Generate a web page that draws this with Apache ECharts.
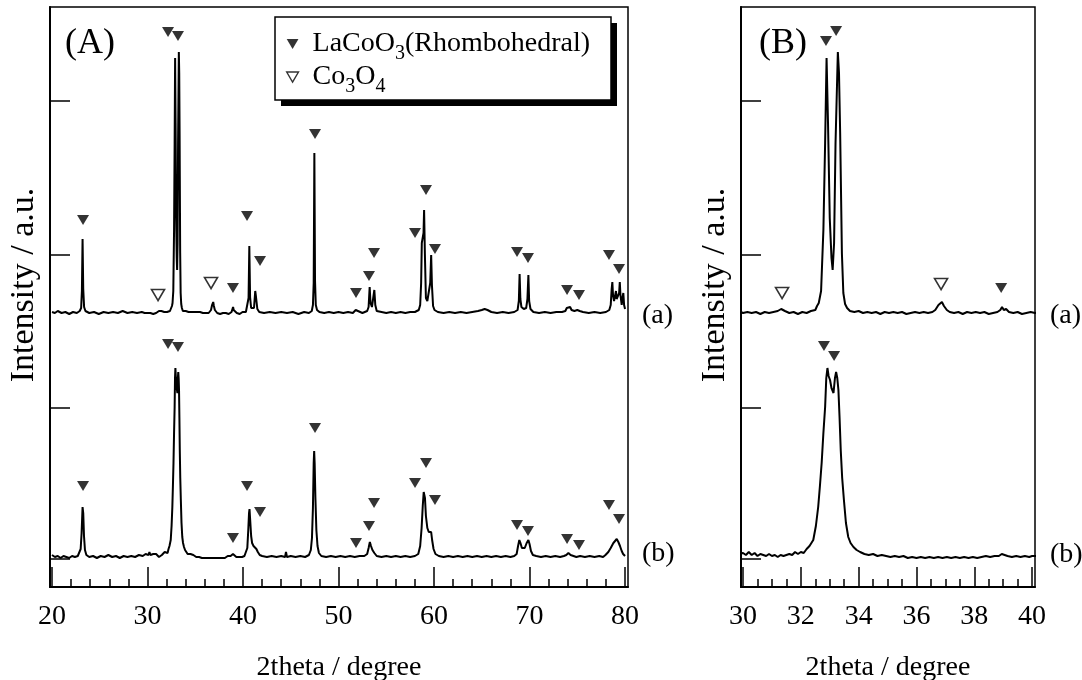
<!DOCTYPE html>
<html>
<head>
<meta charset="utf-8">
<script src="https://cdn.jsdelivr.net/npm/echarts@6/dist/echarts.min.js"></script>
<style>html,body{margin:0;padding:0;background:#fff}#chart{width:1082px;height:680px}</style>
</head>
<body>
<div id="chart"></div>
<script>
// ---------------- DATA ----------------
// XRD pattern of sample (a): [2theta (deg), intensity (a.u., baseline ~0)]
const patternA = [
[20.0,1],[20.3,0],[20.6,2],[21.0,0],[21.4,1],[21.8,-1],[22.2,1],[22.6,0],[22.9,2],[23.05,5],[23.13,22],[23.2,74],[23.27,24],[23.36,6],[23.5,2],
[23.9,0],[24.4,1],[24.9,-1],[25.4,1],[25.9,0],[26.4,1],[26.9,0],[27.4,2],[27.9,0],[28.4,1],[28.9,0],[29.4,1],[29.7,0],[29.85,2],
[30.0,0],[30.15,1],[30.3,0],[30.45,1],[30.6,-1],[30.75,1],[30.9,0],[31.05,1],[31.2,2],[31.32,4],[31.45,2],[31.6,0],[31.75,1],[31.9,-1],
[32.05,1],[32.2,0],[32.35,2],[32.5,3],[32.56,7],[32.62,10],[32.7,22],[32.78,83],[32.84,170],[32.89,255],[32.94,190],[33.0,95],[33.06,55],
[33.1,43],[33.15,70],[33.2,170],[33.28,261],[33.32,240],[33.36,180],[33.42,60],[33.47,20],[33.53,9],[33.6,5],[33.7,2],[33.85,1],
[34.0,2],[34.15,0],[34.3,1],[34.45,0],[34.6,1],[34.75,-1],[34.9,1],[35.05,0],[35.2,1],[35.35,0],[35.5,1],[35.65,-1],[35.8,0],[35.95,1],
[36.1,0],[36.25,1],[36.4,0],[36.55,1],[36.65,3],[36.76,8],[36.82,7],[36.88,11],[36.95,7],[37.05,3],[37.15,1],[37.3,0],[37.45,1],[37.6,-1],
[37.75,1],[37.9,0],[38.05,1],[38.2,0],[38.35,1],[38.5,-1],[38.65,0],[38.8,1],[38.9,3],[38.96,6],[39.02,3],[39.1,4],[39.2,1],[39.35,0],
[39.5,1],[39.65,-1],[39.8,0],[39.95,1],[40.1,0],[40.3,1],[40.45,2],[40.58,15],[40.66,67],[40.74,16],[40.85,5],[41.0,3],[41.15,5],[41.28,22],
[41.36,16],[41.5,4],[41.7,1],[42.2,0],[42.8,1],[43.4,0],[44.0,1],[44.6,0],[45.2,1],[45.8,-1],[46.4,1],[46.9,0],[47.2,2],[47.32,8],[47.4,30],
[47.47,160],[47.54,32],[47.62,8],[47.75,3],[48.0,1],[48.5,0],[49.0,1],[49.5,0],[50.0,1],[50.5,0],[51.0,1],[51.5,0],[51.8,3],[52.0,1],[52.5,0],
[53.0,2],[53.15,6],[53.26,26],[53.35,10],[53.5,6],[53.62,8],[53.75,23],[53.85,8],[54.0,2],[54.5,1],[55.0,0],[55.5,1],[56.0,0],[56.5,1],[57.0,0],
[57.5,1],[58.0,1],[58.4,3],[58.55,8],[58.65,30],[58.72,70],[58.82,72],[58.9,80],[58.96,103],[59.04,60],[59.15,15],[59.3,12],[59.48,14],[59.6,30],
[59.7,58],[59.78,28],[59.9,7],[60.05,3],[60.4,1],[61.0,0],[61.6,1],[62.2,0],[62.8,1],[63.4,0],[64.0,1],[64.6,2],[65.0,3],[65.3,4],[65.6,3],[66.0,1],
[66.6,0],[67.2,1],[67.8,0],[68.4,1],[68.75,3],[68.88,12],[68.96,39],[69.04,14],[69.15,6],[69.4,4],[69.65,5],[69.78,14],[69.88,38],[69.96,12],
[70.1,4],[70.4,1],[71.0,0],[71.6,1],[72.2,0],[72.8,1],[73.4,1],[73.75,2],[73.9,5],[74.05,3],[74.25,6],[74.4,3],[74.7,2],[75.0,3],[75.1,5],[75.25,2],
[75.6,1],[76.2,0],[76.8,1],[77.4,0],[78.0,1],[78.35,3],[78.5,8],[78.6,24],[78.67,31],[78.74,18],[78.85,12],[78.95,14],[79.05,22],[79.12,14],
[79.25,12],[79.38,20],[79.45,31],[79.52,18],[79.65,8],[79.75,16],[79.82,20],[79.9,8],[80.0,4]
];
// XRD pattern of sample (b)
const patternB = [
[20.0,3],[20.3,1],[20.6,2],[20.9,0],[21.2,2],[21.5,1],[21.8,0],[22.1,2],[22.4,1],[22.7,2],[22.9,4],[23.0,9],[23.1,25],[23.2,51],[23.27,45],
[23.35,22],[23.45,8],[23.6,3],[23.9,1],[24.3,2],[24.7,0],[25.1,2],[25.5,1],[25.9,3],[26.3,1],[26.7,2],[27.1,0],[27.5,2],[27.9,1],[28.3,2],
[28.7,1],[29.1,3],[29.5,2],[29.8,4],[30.0,5],[30.1,3],[30.2,6],[30.3,3],[30.4,5],[30.5,2],[30.6,4],[30.7,3],[30.8,2],[30.9,4],[31.0,2],
[31.1,3],[31.2,1],[31.3,3],[31.4,2],[31.5,3],[31.6,4],[31.7,3],[31.8,6],[31.9,4],[32.0,6],[32.1,5],[32.2,9],[32.3,12],[32.43,18],[32.52,32],
[32.6,51],[32.66,72],[32.72,95],[32.78,125],[32.84,151],[32.88,180],[32.92,190],[32.96,182],[33.01,178],[33.06,170],[33.13,165],[33.18,180],
[33.22,186],[33.26,180],[33.3,168],[33.34,140],[33.38,108],[33.43,80],[33.49,58],[33.56,35],[33.64,21],[33.72,15],[33.82,11],[33.93,8],
[34.05,6],[34.2,4],[34.35,3],[34.5,4],[34.65,2],[34.8,3],[34.95,2],[35.1,1],[35.25,2],[35.4,1],[35.55,2],[35.7,0],[35.85,1],[36.0,0],
[36.15,1],[36.3,0],[36.45,1],[36.6,0],[36.75,1],[36.9,0],[37.05,1],[37.2,0],[37.35,1],[37.5,0],[37.65,1],[37.8,0],[37.95,1],[38.1,0],
[38.25,1],[38.4,2],[38.55,1],[38.7,2],[38.85,2],[38.95,4],[39.05,3],[39.15,2],[39.3,1],[39.45,2],[39.6,1],[39.75,2],[39.9,1],[40.0,2],
[40.15,2],[40.3,3],[40.45,10],[40.55,28],[40.63,45],[40.68,49],[40.75,38],[40.85,22],[40.95,15],[41.1,12],[41.25,11],[41.4,9],[41.55,6],
[41.75,3],[42.0,2],[42.5,1],[43.0,2],[43.5,1],[44.0,2],[44.4,1],[44.5,6],[44.6,1],[45.0,2],[45.5,1],[46.0,2],[46.5,1],[46.9,3],[47.1,8],
[47.22,20],[47.32,50],[47.4,95],[47.45,107],[47.5,95],[47.58,60],[47.68,28],[47.8,12],[47.95,5],[48.2,2],[48.7,1],[49.2,2],[49.7,1],[50.2,2],
[50.7,1],[51.2,2],[51.7,1],[52.2,2],[52.7,2],[53.0,4],[53.15,10],[53.28,16],[53.4,12],[53.55,8],[53.75,5],[54.0,2],[54.5,1],[55.0,2],[55.5,1],
[56.0,2],[56.5,1],[57.0,2],[57.5,1],[58.0,2],[58.35,4],[58.55,12],[58.7,30],[58.82,52],[58.92,66],[58.98,68],[59.05,60],[59.15,42],[59.3,30],
[59.45,26],[59.6,27],[59.7,26],[59.8,18],[59.95,9],[60.15,4],[60.5,2],[61.0,1],[61.5,2],[62.0,1],[62.5,2],[63.0,1],[63.5,2],[64.0,1],[64.5,2],
[65.0,1],[65.5,2],[66.0,1],[66.5,2],[67.0,1],[67.5,2],[68.0,1],[68.4,2],[68.65,4],[68.8,12],[68.93,18],[69.05,15],[69.2,10],[69.35,8],[69.5,10],
[69.7,15],[69.88,18],[70.0,14],[70.15,7],[70.35,3],[70.7,2],[71.2,1],[71.7,2],[72.2,1],[72.7,2],[73.2,1],[73.6,2],[73.85,3],[74.07,5],[74.3,3],
[74.6,2],[74.9,1],[75.3,2],[75.8,1],[76.3,2],[76.8,1],[77.3,2],[77.7,1],[77.95,3],[78.25,6],[78.5,10],[78.78,15],[78.95,17],[79.13,19],[79.3,16],
[79.47,12],[79.65,7],[79.8,4],[80.0,2]
];
// vertical offsets used to stack the two patterns
const offsetPatternA = 246;
const offsetPatternB = 1;

// peak-marker positions [2theta, plotted intensity]
const lacoMarksPanelA_a = [[23.25,339],[32.15,527],[33.19,523],[38.95,271],[40.42,343],[41.78,298],[47.54,425],[51.83,266],[53.19,283],[53.72,306],[58.01,326],[59.16,369],[60.1,310],[68.69,307],[69.84,301],[73.93,269],[75.18,264],[78.32,304],[79.37,290]];
const co3o4MarksPanelA_a = [[31.1,264],[36.65,276]];
const lacoMarksPanelA_b = [[23.25,73],[32.15,215],[33.19,212],[38.95,21],[40.42,73],[41.78,47],[47.54,131],[51.83,16],[53.19,33],[53.72,56],[58.01,76],[59.16,96],[60.1,59],[68.69,34],[69.84,28],[73.93,20],[75.18,14],[78.32,54],[79.37,40]];
const lacoMarksPanelB_a = [[32.87,518],[33.22,528],[38.93,271]];
const co3o4MarksPanelB_a = [[31.35,266],[36.85,275]];
const lacoMarksPanelB_b = [[32.8,213],[33.15,203]];

// ticks
const xTicksA = [20,30,40,50,60,70,80];
const xMinorTicksA = [22,24,26,28,32,34,36,38,42,44,46,48,52,54,56,58,62,64,66,68,72,74,76,78];
const xTicksB = [30,32,34,36,38,40];
const xMinorTicksB = [30.5,31,31.5,32.5,33,33.5,34.5,35,35.5,36.5,37,37.5,38.5,39,39.5];
const yTicks = [0,151,304,458];

// ---------------- CHART ----------------
const FONT = '"Liberation Serif","Times New Roman",Times,serif';
const shift = (arr, off) => arr.map(p => [p[0], p[1] + off]);
const chart = echarts.init(document.getElementById('chart'), null, {renderer: 'canvas'});

function majorX(grid, min, max, ticks, name) {
  return {
    type: 'value', gridIndex: grid, min, max, position: 'bottom',
    name, nameLocation: 'middle', nameGap: 67,
    nameTextStyle: {fontFamily: FONT, fontSize: 28, color: '#000'},
    axisLine: {show: true, onZero: false, lineStyle: {color: '#000', width: 2}},
    axisTick: {show: true, inside: true, length: 20, customValues: ticks, lineStyle: {color: '#000', width: 1.5}},
    axisLabel: {show: true, customValues: ticks, margin: 16, fontFamily: FONT, fontSize: 28, color: '#000'},
    splitLine: {show: false}
  };
}
function minorX(grid, min, max, ticks) {
  return {
    type: 'value', gridIndex: grid, min, max, position: 'bottom', offset: 0,
    axisLine: {show: false, onZero: false},
    axisTick: {show: true, inside: true, length: 8, customValues: ticks, lineStyle: {color: '#000', width: 1.5}},
    axisLabel: {show: false},
    splitLine: {show: false}
  };
}
function yAx(grid) {
  return {
    type: 'value', gridIndex: grid, min: -28, max: 552,
    name: 'Intensity / a.u.', nameLocation: 'middle', nameGap: 9, nameRotate: 90,
    nameTextStyle: {fontFamily: FONT, fontSize: 34, color: '#000', padding: [0, 0, 0, 24]},
    axisLine: {show: true, onZero: false, lineStyle: {color: '#000', width: 2}},
    axisTick: {show: true, inside: true, length: 20, customValues: yTicks, lineStyle: {color: '#000', width: 1.5}},
    axisLabel: {show: false},
    splitLine: {show: false}
  };
}
const lineStyle = {color: '#000', width: 2};
function trace(xi, yi, data) {
  return {type: 'line', xAxisIndex: xi, yAxisIndex: yi, data, showSymbol: false, symbol: 'none',
          lineStyle, silent: true, animation: false, clip: true, z: 2};
}
const LACO = 'LaCoO3(Rhombohedral)', CO = 'Co3O4';
const DOWN_TRI = 'path://M0,0L10,0L5,8.5Z';
function filled(xi, yi, data) {
  return {type: 'scatter', name: LACO, xAxisIndex: xi, yAxisIndex: yi, data, symbol: 'triangle',
          symbolRotate: 180, symbolSize: [12, 10], itemStyle: {color: '#000'}, silent: true, z: 3, animation: false};
}
function open(xi, yi, data) {
  return {type: 'scatter', name: CO, xAxisIndex: xi, yAxisIndex: yi, data, symbol: 'triangle',
          symbolRotate: 180, symbolSize: [13, 11], itemStyle: {color: '#fff', borderColor: '#000', borderWidth: 1.6},
          silent: true, z: 3, animation: false};
}
const gridBase = {show: true, borderColor: '#000', borderWidth: 1.5, containLabel: false, outerBoundsMode: 'none'};

const option = {
  backgroundColor: '#fff',
  animation: false,
  textStyle: {fontFamily: FONT},
  grid: [
    Object.assign({left: 50, top: 7, width: 578, height: 580}, gridBase),
    Object.assign({left: 741, top: 7, width: 294, height: 580}, gridBase)
  ],
  xAxis: [
    majorX(0, 19.79, 80.31, xTicksA, '2theta / degree'),
    minorX(0, 19.79, 80.31, xMinorTicksA),
    majorX(1, 29.93, 40.1, xTicksB, '2theta / degree'),
    minorX(1, 29.93, 40.1, xMinorTicksB)
  ],
  yAxis: [yAx(0), yAx(1)],
  legend: {
    left: 275, top: 17, orient: 'vertical', z: 20,
    padding: [7, 19, 3, 11],
    itemWidth: 12, itemHeight: 10, itemGap: -7,
    backgroundColor: 'transparent', borderWidth: 0,
    selectedMode: false,
    symbolRotate: 0,
    data: [
      {name: LACO, icon: DOWN_TRI, itemStyle: {color: '#000', borderWidth: 0}},
      {name: CO, icon: DOWN_TRI, itemStyle: {color: '#fff', borderColor: '#000', borderWidth: 1.4}}
    ],
    formatter: function (name) {
      return name === LACO ? '{f|LaCoO}{s|3}{n|(Rhombohedral)}' : '{f|Co}{s|3}{n|O}{s|4}';
    },
    textStyle: {
      fontFamily: FONT, fontSize: 28, color: '#000',
      rich: {
        f: {fontFamily: FONT, fontSize: 28, color: '#000', lineHeight: 40, padding: [0, 0, 0, 9]},
        n: {fontFamily: FONT, fontSize: 28, color: '#000', lineHeight: 40},
        s: {fontFamily: FONT, fontSize: 20, color: '#000', lineHeight: 20, verticalAlign: 'top', padding: [20, 0, 0, 0]}
      }
    }
  },
  graphic: [
    // legend frame with its drop shadow
    {type: 'rect', z: 10, shape: {x: 281, y: 23, width: 336, height: 83}, style: {fill: '#000'}},
    {type: 'rect', z: 11, shape: {x: 275, y: 17, width: 336, height: 83}, style: {fill: '#fff', stroke: '#000', lineWidth: 1.5}},
    {type: 'text', left: 65, top: 26, style: {text: '(A)', font: '36px ' + FONT, fill: '#000'}},
    {type: 'text', left: 759, top: 26, style: {text: '(B)', font: '36px ' + FONT, fill: '#000'}},
    {type: 'text', left: 642, top: 302, style: {text: '(a)', font: '28px ' + FONT, fill: '#000'}},
    {type: 'text', left: 642, top: 540, style: {text: '(b)', font: '28px ' + FONT, fill: '#000'}},
    {type: 'text', left: 1050, top: 302, style: {text: '(a)', font: '28px ' + FONT, fill: '#000'}},
    {type: 'text', left: 1050, top: 541, style: {text: '(b)', font: '28px ' + FONT, fill: '#000'}}
  ],
  series: [
    trace(0, 0, shift(patternA, offsetPatternA)),
    trace(0, 0, shift(patternB, offsetPatternB)),
    trace(2, 1, shift(patternA, offsetPatternA)),
    trace(2, 1, shift(patternB, offsetPatternB)),
    filled(0, 0, lacoMarksPanelA_a),
    open(0, 0, co3o4MarksPanelA_a),
    filled(0, 0, lacoMarksPanelA_b),
    filled(2, 1, lacoMarksPanelB_a),
    open(2, 1, co3o4MarksPanelB_a),
    filled(2, 1, lacoMarksPanelB_b)
  ]
};
chart.setOption(option);
</script>
</body>
</html>
